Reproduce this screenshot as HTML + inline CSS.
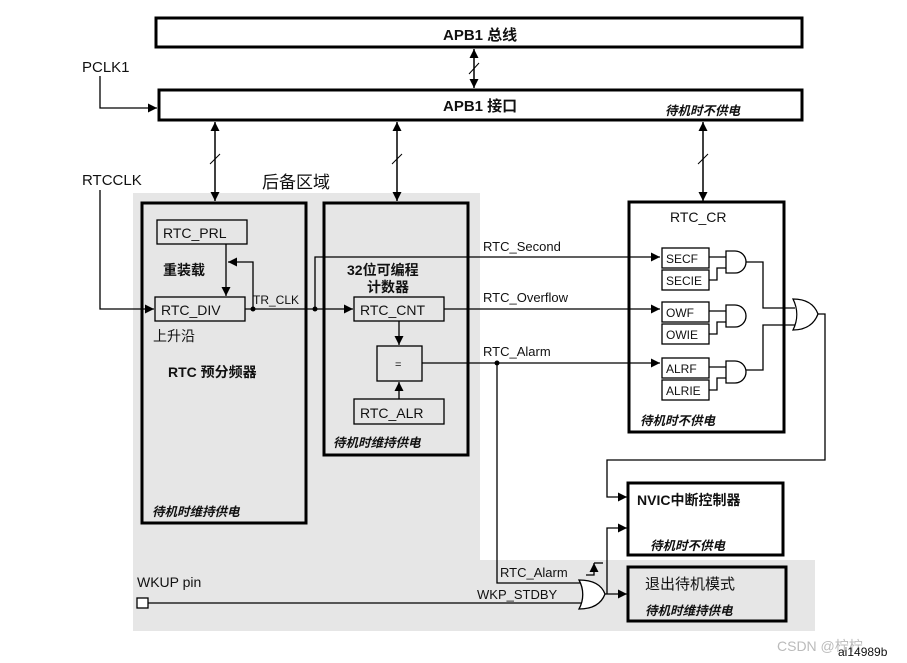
<!DOCTYPE html>
<html><head><meta charset="utf-8"><style>
html,body{margin:0;padding:0;background:#fff}
svg{display:block}
text{font-family:"Liberation Sans","Noto Sans CJK SC",sans-serif;fill:#111}
.b{font-weight:bold}
.i{font-style:italic;font-weight:bold;font-size:12.5px}
</style></head><body>
<svg width="907" height="663" viewBox="0 0 907 663" xmlns="http://www.w3.org/2000/svg">
<defs>
<marker id="a" viewBox="0 0 10 10" refX="10" refY="5" markerWidth="9" markerHeight="9" orient="auto-start-reverse" markerUnits="userSpaceOnUse"><path d="M0,0L10,5L0,10z" fill="#000"/></marker>
</defs>
<path d="M133,193H480V560H815V631H133Z" fill="#e6e6e6"/>
<g fill="none" stroke="#000">
<rect x="156" y="18" width="646" height="29" stroke-width="3" fill="#fff"/>
<rect x="159" y="90" width="643" height="30" stroke-width="3" fill="#fff"/>
<g stroke-width="1.5">
<line x1="474" y1="49" x2="474" y2="88" marker-start="url(#a)" marker-end="url(#a)"/>
<line x1="215" y1="122" x2="215" y2="201" marker-start="url(#a)" marker-end="url(#a)"/>
<line x1="397" y1="122" x2="397" y2="201" marker-start="url(#a)" marker-end="url(#a)"/>
<line x1="703" y1="122" x2="703" y2="201" marker-start="url(#a)" marker-end="url(#a)"/>
</g>
<g stroke-width="1">
<line x1="469" y1="74" x2="479" y2="63"/>
<line x1="210" y1="164" x2="220" y2="154"/>
<line x1="392" y1="164" x2="402" y2="154"/>
<line x1="698" y1="164" x2="708" y2="154"/>
</g>
<path d="M100,76V108H157" stroke-width="1.3" marker-end="url(#a)"/>
<path d="M100,190V309H154" stroke-width="1.3" marker-end="url(#a)"/>
<rect x="142" y="203" width="164" height="320" stroke-width="3"/>
<rect x="324" y="203" width="144" height="252" stroke-width="3"/>
<rect x="629" y="202" width="155" height="230" stroke-width="3" fill="#fff"/>
<rect x="628" y="483" width="155" height="72" stroke-width="3" fill="#fff"/>
<rect x="628" y="567" width="158" height="54" stroke-width="3"/>
<g stroke-width="1.3">
<rect x="157" y="220" width="90" height="24"/>
<rect x="155" y="297" width="90" height="24"/>
<rect x="354" y="297" width="90" height="24"/>
<rect x="377" y="346" width="45" height="35"/>
<rect x="354" y="399" width="90" height="25"/>
<rect x="662" y="248" width="47" height="20"/>
<rect x="662" y="270" width="47" height="20"/>
<rect x="662" y="302" width="47" height="20"/>
<rect x="662" y="324" width="47" height="20"/>
<rect x="662" y="358" width="47" height="20"/>
<rect x="662" y="380" width="47" height="20"/>
</g>
<g stroke-width="1.3">
<path d="M226,244V296" marker-end="url(#a)"/>
<path d="M253,309V262H228" marker-end="url(#a)"/>
<path d="M245,309H353" marker-end="url(#a)"/>
<path d="M315,309V257H660" marker-end="url(#a)"/>
<path d="M444,309H660" marker-end="url(#a)"/>
<path d="M399,321V345" marker-end="url(#a)"/>
<path d="M399,399V382" marker-end="url(#a)"/>
<path d="M422,363H660" marker-end="url(#a)"/>
<path d="M497,363V583H582"/>
<path d="M726,251H735A11,11 0 0 1 735,273H726Z" fill="#fff"/>
<path d="M726,305H735A11,11 0 0 1 735,327H726Z" fill="#fff"/>
<path d="M726,361H735A11,11 0 0 1 735,383H726Z" fill="#fff"/>
<path d="M709,257H726M709,280H717V268H726"/>
<path d="M709,311H726M709,334H717V322H726"/>
<path d="M709,367H726M709,390H717V378H726"/>
<path d="M746,262H763V308H795"/>
<path d="M746,370H763V325H795"/>
<path d="M793,299C808,299 815,306 818,314C815,322 808,330 793,330C798,320 798,309 793,299Z" fill="#fff"/>
<path d="M818,314H825V460H607V497H627" marker-end="url(#a)"/>
<path d="M579,580C595,580 602,586 605,594C602,602 595,609 579,609C584,600 584,589 579,580Z" fill="#fff"/>
<path d="M605,594H627" marker-end="url(#a)"/>
<path d="M607,594V528H627" marker-end="url(#a)"/>
<path d="M586,575H594V563" marker-end="url(#a)"/>
<path d="M594,563H603"/>
<rect x="137" y="598" width="11" height="10" fill="#fff"/>
<path d="M148,603H582"/>
</g>
</g>
<g fill="#000">
<circle cx="253" cy="309" r="2.5"/><circle cx="315" cy="309" r="2.5"/><circle cx="497" cy="363" r="2.5"/>
</g>
<text x="443" y="40" class="b" font-size="15">APB1 总线</text>
<text x="443" y="111" class="b" font-size="15">APB1 接口</text>
<text x="665" y="115" class="i">待机时不供电</text>
<text x="82" y="72" font-size="15">PCLK1</text>
<text x="82" y="185" font-size="15">RTCCLK</text>
<text x="262" y="188" font-size="17">后备区域</text>
<text x="163" y="238" font-size="14">RTC_PRL</text>
<text x="163" y="275" font-size="14" class="b">重装载</text>
<text x="161" y="315" font-size="14">RTC_DIV</text>
<text x="153" y="341" font-size="14">上升沿</text>
<text x="168" y="377" font-size="14" class="b">RTC 预分频器</text>
<text x="152" y="516" class="i">待机时维持供电</text>
<text x="253" y="304" font-size="12">TR_CLK</text>
<text x="347" y="275" font-size="14" class="b">32位可编程</text>
<text x="367" y="292" font-size="14" class="b">计数器</text>
<text x="360" y="315" font-size="14">RTC_CNT</text>
<text x="395" y="368" font-size="11">=</text>
<text x="360" y="418" font-size="14">RTC_ALR</text>
<text x="333" y="447" class="i">待机时维持供电</text>
<text x="483" y="251" font-size="13">RTC_Second</text>
<text x="483" y="302" font-size="13">RTC_Overflow</text>
<text x="483" y="356" font-size="13">RTC_Alarm</text>
<text x="670" y="222" font-size="14">RTC_CR</text>
<g font-size="12"><text x="666" y="263">SECF</text><text x="666" y="285">SECIE</text>
<text x="666" y="317">OWF</text><text x="666" y="339">OWIE</text>
<text x="666" y="373">ALRF</text><text x="666" y="395">ALRIE</text></g>
<text x="640" y="425" class="i">待机时不供电</text>
<text x="637" y="505" font-size="14" class="b">NVIC中断控制器</text>
<text x="650" y="550" class="i">待机时不供电</text>
<text x="645" y="589" font-size="15">退出待机模式</text>
<text x="645" y="615" class="i">待机时维持供电</text>
<text x="500" y="577" font-size="13">RTC_Alarm</text>
<text x="477" y="599" font-size="13">WKP_STDBY</text>
<text x="137" y="587" font-size="14">WKUP pin</text>
<text x="777" y="651" font-size="14" style="fill:#bbb">CSDN @柠柠</text>
<text x="838" y="656" font-size="12">ai14989b</text>
</svg>
</body></html>
